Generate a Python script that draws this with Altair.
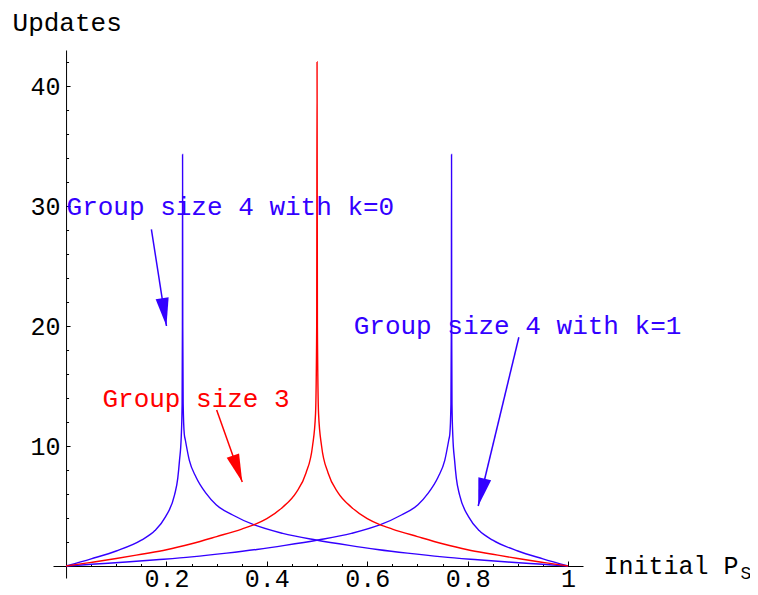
import math
import altair as alt
import pandas as pd

# ---------------- data ----------------
# Group size 4 with k=0 (blue)
k0_x = [0.0, 0.05, 0.10, 0.15, 0.177, 0.198, 0.216, 0.2225, 0.226, 0.2295, 0.2312,
        0.2318, 0.2321, 0.2325, 0.2333, 0.2355, 0.2376, 0.2456, 0.259, 0.279, 0.299,
        0.332, 0.375, 0.4315, 0.498, 0.564, 0.62, 0.68, 0.75, 0.82, 0.88, 0.95, 1.0]
k0_y = [0.0, 0.6, 1.25, 2.15, 2.95, 4.1, 5.9, 7.3, 8.8, 10.8, 13.5,
        20.0, 34.3, 20.0, 13.5, 11.0, 10.5, 8.8, 7.4, 6.05, 5.1,
        4.25, 3.42, 2.72, 2.17, 1.72, 1.38, 1.07, 0.76, 0.52, 0.33, 0.14, 0.0]

# Group size 4 with k=1 (blue)
k1_x = [0.0, 0.05, 0.12, 0.18, 0.25, 0.32, 0.38, 0.436, 0.502, 0.5685, 0.625, 0.668,
        0.701, 0.721, 0.741, 0.7544, 0.7624, 0.7645, 0.7667, 0.7675, 0.7679, 0.7682,
        0.7688, 0.7705, 0.774, 0.7775, 0.784, 0.802, 0.823, 0.85, 0.90, 0.95, 1.0]
k1_y = [0.0, 0.14, 0.33, 0.52, 0.76, 1.07, 1.38, 1.72, 2.17, 2.72, 3.42, 4.25,
        5.1, 6.05, 7.4, 8.8, 10.5, 11.0, 13.5, 20.0, 34.3, 20.0,
        13.5, 10.8, 8.8, 7.3, 5.9, 4.1, 2.95, 2.15, 1.25, 0.6, 0.0]

# Group size 3 (red)
g3_x = [0.0, 0.05, 0.10, 0.15, 0.20, 0.25, 0.30, 0.35, 0.375, 0.40, 0.4315, 0.458,
        0.478, 0.491, 0.497, 0.4993, 0.5, 0.5007, 0.503, 0.509, 0.522, 0.542, 0.5685,
        0.60, 0.625, 0.65, 0.70, 0.75, 0.80, 0.85, 0.90, 0.95, 1.0]
g3_y = [0.0, 0.3, 0.62, 0.98, 1.35, 1.85, 2.45, 3.08, 3.45, 3.95, 4.9, 6.1,
        7.75, 10.0, 12.7, 20.0, 42.0, 20.0, 12.7, 10.0, 7.75, 6.1, 4.9,
        3.95, 3.45, 3.08, 2.45, 1.85, 1.35, 0.98, 0.62, 0.3, 0.0]

# annotations
ann_text = ["Group size 4 with k=0", "Group size 4 with k=1", "Group size 3"]
ann_series = ["k0", "k1", "g3"]
ann_x = [0.001, 0.573, 0.0725]
ann_y = [29.25, 19.33, 13.27]

# arrows: start (x, y) -> tip (x2, y2)
arrow_series = ["k0", "k1", "g3"]
arrow_x = [0.170, 0.902, 0.300]
arrow_y = [28.06, 19.06, 13.0]
arrow_x2 = [0.200, 0.821, 0.351]
arrow_y2 = [20.0, 5.0, 7.0]

# axis ticks
x_major = [0.2, 0.4, 0.6, 0.8, 1.0]
x_minor = [round(0.05 * i, 2) for i in range(1, 21)]
y_major = [10, 20, 30, 40]
y_minor = list(range(2, 43, 2))

series_domain = ["k0", "k1", "g3"]
series_colors = ["#3300ff", "#3300ff", "#ff0000"]

# ---------------- layout ----------------
PX_X = 502.0   # pixels per unit x
PX_Y = 12.0    # pixels per unit y
XMIN = -0.026
YMIN = -1.0
W = 530
H = 528
XMAX = XMIN + W / PX_X
YMAX = YMIN + H / PX_Y
OFF_Y0 = (0 - YMIN) * PX_Y      # distance of y=0 line above bottom edge
OFF_X0 = (0 - XMIN) * PX_X      # distance of x=0 line right of left edge

FONT = "Liberation Mono"

curves = pd.concat([
    pd.DataFrame({"x": k0_x, "y": k0_y, "series": "k0"}),
    pd.DataFrame({"x": k1_x, "y": k1_y, "series": "k1"}),
    pd.DataFrame({"x": g3_x, "y": g3_y, "series": "g3"}),
], ignore_index=True)

ann = pd.DataFrame({"x": ann_x, "y": ann_y, "text": ann_text, "series": ann_series})

angles = []
for xa, ya, xb, yb in zip(arrow_x, arrow_y, arrow_x2, arrow_y2):
    dx = (xb - xa) * PX_X
    dy = -(yb - ya) * PX_Y
    angles.append(math.degrees(math.atan2(-dx, dy)) % 360)
arrows = pd.DataFrame({"x": arrow_x, "y": arrow_y, "x2": arrow_x2, "y2": arrow_y2,
                       "series": arrow_series, "angle": angles})

xscale = alt.Scale(domain=[XMIN, XMAX], nice=False, zero=False)
yscale = alt.Scale(domain=[YMIN, YMAX], nice=False, zero=False)
cscale = alt.Scale(domain=series_domain, range=series_colors)

# main axes (labels + axis lines through the origin)
x_main = alt.Axis(orient="bottom", offset=-OFF_Y0, values=x_major, format=".1~f",
                  ticks=False, tickSize=0, labelPadding=0, labelFlush=False,
                  labelOverlap=False, grid=False, domainColor="black", domainWidth=1,
                  labelFont=FONT, labelFontSize=25, labelColor="black",
                  title="Initial P", titleX=550, titleY=7, titleAlign="left",
                  titleBaseline="alphabetic", titleFont=FONT, titleFontSize=25,
                  titleFontWeight="normal", titleColor="black")
y_main = alt.Axis(orient="left", offset=-OFF_X0, values=y_major, ticks=False, tickSize=0,
                  labelPadding=6, labelFlush=False, labelOverlap=False, grid=False,
                  domainColor="black", domainWidth=1, labelFont=FONT, labelFontSize=25,
                  labelColor="black", title="Updates", titleAngle=0, titleX=-54,
                  titleY=-20, titleAlign="left", titleBaseline="alphabetic",
                  titleFont=FONT, titleFontSize=26, titleFontWeight="normal",
                  titleColor="black")

# inward tick axes placed on the same origin lines
x_minor_ax = alt.Axis(orient="top", offset=-(H - OFF_Y0), values=x_minor, labels=False,
                      domain=False, grid=False, tickSize=2.5, tickColor="black",
                      tickWidth=1, title=None)
y_minor_ax = alt.Axis(orient="right", offset=-(W - OFF_X0), values=y_minor, labels=False,
                      domain=False, grid=False, tickSize=2.5, tickColor="black",
                      tickWidth=1, title=None)
x_major_ax = alt.Axis(orient="top", offset=-(H - OFF_Y0), values=x_major, labels=False,
                      domain=False, grid=False, tickSize=5, tickColor="black",
                      tickWidth=1, title="S", titleX=687, titleY=12, titleAlign="left",
                      titleBaseline="alphabetic", titleFont=FONT, titleFontSize=18,
                      titleFontWeight="normal", titleColor="black")
y_major_ax = alt.Axis(orient="right", offset=-(W - OFF_X0), values=y_major, labels=False,
                      domain=False, grid=False, tickSize=4, tickColor="black",
                      tickWidth=1, title=None)

lines = alt.Chart(curves).mark_line(strokeWidth=1.4, interpolate="monotone").encode(
    x=alt.X("x:Q", scale=xscale, axis=x_main),
    y=alt.Y("y:Q", scale=yscale, axis=y_main),
    color=alt.Color("series:N", scale=cscale, legend=None),
    detail="series:N",
)

rules = alt.Chart(arrows).mark_rule(strokeWidth=1.5).encode(
    x=alt.X("x:Q", scale=xscale, axis=x_minor_ax),
    y=alt.Y("y:Q", scale=yscale, axis=y_minor_ax),
    x2="x2:Q",
    y2="y2:Q",
    color=alt.Color("series:N", scale=cscale, legend=None),
)

heads = alt.Chart(arrows).mark_point(
    shape="M0,0 L-0.47,-2 L0.47,-2 Z", filled=True, size=784, opacity=1, strokeWidth=0
).encode(
    x=alt.X("x2:Q", scale=xscale, axis=x_major_ax),
    y=alt.Y("y2:Q", scale=yscale, axis=y_major_ax),
    angle=alt.Angle("angle:Q", scale=None),
    color=alt.Color("series:N", scale=cscale, legend=None),
)

texts = alt.Chart(ann).mark_text(font=FONT, fontSize=26, align="left",
                                 baseline="alphabetic").encode(
    x=alt.X("x:Q", scale=xscale, axis=None),
    y=alt.Y("y:Q", scale=yscale, axis=None),
    text="text:N",
    color=alt.Color("series:N", scale=cscale, legend=None),
)

chart = alt.layer(lines, rules, heads, texts).resolve_axis(
    x="independent", y="independent"
).properties(
    width=W, height=H,
    autosize=alt.AutoSizeParams(type="none"),
    padding={"left": 45, "top": 42, "right": 167, "bottom": 20},
    background="white",
).configure_view(stroke=None)

chart.save("out.html", embed_options={"renderer": "svg", "actions": False})
